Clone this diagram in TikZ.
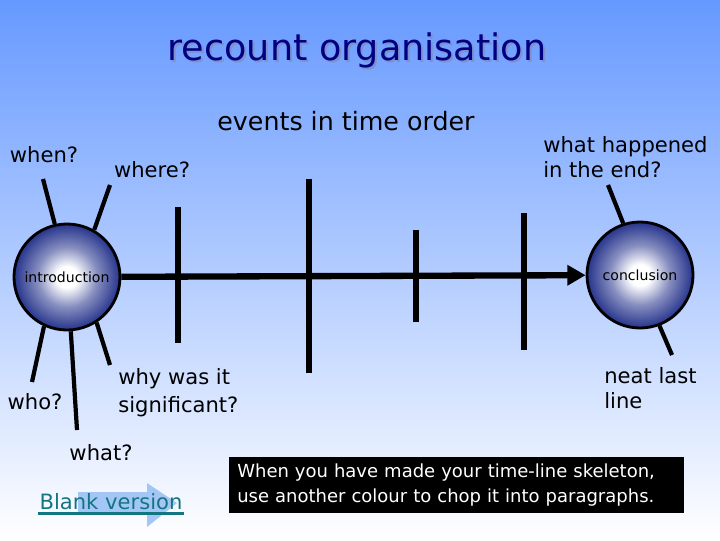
\documentclass[tikz,border=0pt]{standalone}
\usepackage{fontspec}
\setmainfont{DejaVu Sans}
\usetikzlibrary{arrows.meta}

\definecolor{skytop}{RGB}{102,153,255}
\definecolor{orbblue}{RGB}{38,52,140}
\definecolor{titlenavy}{RGB}{0,0,128}
\definecolor{titleshade}{RGB}{125,145,205}
\definecolor{linkteal}{RGB}{18,118,128}
\definecolor{arrowsky}{RGB}{150,190,245}

\pgfdeclareradialshading{orbshade}{\pgfpointorigin}{color(0bp)=(white); color(5bp)=(white);
  color(14bp)=(orbblue!55); color(25bp)=(orbblue); color(50bp)=(orbblue)}

\tikzset{
  orb/.style={circle, draw=black, line width=2pt, minimum size=2.65cm, inner sep=0pt,
              shading=orbshade, font=\fontsize{10}{12}\selectfont},
  tag/.style={font=\fontsize{15}{18}\selectfont, align=left, inner sep=0pt},
  spoke/.style={line width=3pt},
  bar/.style={line width=3.6pt},
  timeline/.style={line width=4.5pt, -{Triangle[length=13pt, width=14pt]}},
}

\begin{document}
\begin{tikzpicture}[x=0.025cm, y=-0.025cm]
    \shade[top color=skytop, bottom color=white] (0,0) rectangle (720,540);
    \useasboundingbox (0,0) rectangle (720,540);

%%   kw   (name)   (x, y)   {text}
    \node[font=\fontsize{26}{30}\selectfont, text=titleshade] (titleshadow) at (359,52) {recount organisation};
    \node[font=\fontsize{26}{30}\selectfont, text=titlenavy] (title) at (357,50) {recount organisation};
    \node[font=\fontsize{18}{22}\selectfont] (events) at (346,121) {events in time order};

    \node[orb] (intro) at (67,277) {introduction};
    \node[orb] (concl) at (640,275) {conclusion};

    \node[tag] (when) at (44,155) {when?};
    \node[tag] (where) at (152,170) {where?};
    \node[tag, anchor=west] (end) at (543,157) {what happened\\in the end?};
    \node[tag] (who) at (35,402) {who?};
    \node[tag, anchor=west, font=\fontsize{15}{20}\selectfont] (why) at (118,393) {why was it\\significant?};
    \node[tag] (what) at (101,453) {what?};
    \node[tag, anchor=west] (neat) at (604,388) {neat last\\line};

    % spoke ends
    \coordinate (whenend) at (43,179);
    \coordinate (whereend) at (110,185);
    \coordinate (whoend) at (32,382);
    \coordinate (whatend) at (77,430);
    \coordinate (whyend) at (110,365);
    \coordinate (endend) at (608,185);
    \coordinate (neatend) at (672,355);

    \draw[spoke] (intro.103) -- (whenend);
    \draw[spoke] (intro.60) -- (whereend);
    \draw[spoke] (intro.245) -- (whoend);
    \draw[spoke] (intro.274) -- (whatend);
    \draw[spoke] (intro.303) -- (whyend);
    \draw[spoke] (concl.108) -- (endend);
    \draw[spoke] (concl.291) -- (neatend);

    % time line and its events
    \draw[timeline] (intro) -- (concl);

    \coordinate (t1) at (178,207);  \coordinate (b1) at (178,343);
    \coordinate (t2) at (309,179);  \coordinate (b2) at (309,373);
    \coordinate (t3) at (416,230);  \coordinate (b3) at (416,322);
    \coordinate (t4) at (524,213);  \coordinate (b4) at (524,350);

    \draw[bar] (t1) -- (b1);
    \draw[bar] (t2) -- (b2);
    \draw[bar] (t3) -- (b3);
    \draw[bar] (t4) -- (b4);

    % link back to the blank sheet
    \fill[arrowsky, opacity=0.85] (78,492) -- (147,492) -- (147,483) -- (177,503)
        -- (147,527) -- (147,513) -- (78,513) -- cycle;
    \node[tag, text=linkteal, inner xsep=1pt] (blank) at (111,502) {Blank version};
    \draw[linkteal, line width=2pt] ([yshift=-2.5pt]blank.base west) -- ([yshift=-2.5pt]blank.base east);

    \node[fill=black, text=white, anchor=north west, inner xsep=0.2cm, inner ysep=0pt,
          text width=10.975cm, minimum height=1.4cm, align=left,
          font=\fontsize{12.8}{18}\selectfont] (hint) at (229,457)
          {When you have made your time-line skeleton,\\use another colour to chop it into paragraphs.};
\end{tikzpicture}
\end{document}
